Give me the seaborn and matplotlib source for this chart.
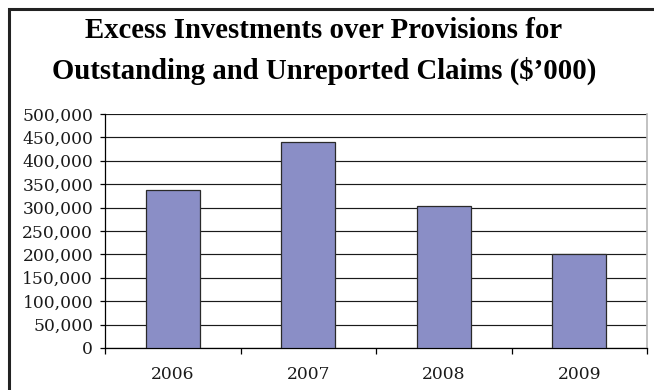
import matplotlib
matplotlib.use("Agg")
import matplotlib.pyplot as plt
from matplotlib.lines import Line2D
from matplotlib.ticker import FixedLocator
import seaborn as sns
import pandas as pd

# Data
years = ["2006", "2007", "2008", "2009"]
excess_investments = [338000, 440000, 304000, 200000]
y_ticks = [0, 50000, 100000, 150000, 200000, 250000, 300000, 350000, 400000, 450000, 500000]
y_tick_labels = ["0", "50,000", "100,000", "150,000", "200,000", "250,000",
                 "300,000", "350,000", "400,000", "450,000", "500,000"]
title_lines = ["Excess Investments over Provisions for",
               "Outstanding and Unreported Claims ($\u2019000)"]

sns.set_style("white")
plt.rcParams["font.family"] = ["Liberation Serif", "DejaVu Serif"]

W, H = 654, 390
fig = plt.figure(figsize=(W / 100, H / 100), dpi=100)
ax = fig.add_axes([105 / W, 1 - 348 / H, (647 - 105) / W, (348 - 114) / H])

df = pd.DataFrame({"year": years, "value": excess_investments})
sns.barplot(data=df, x="year", y="value", ax=ax, color="#8A8EC6",
            saturation=1, width=0.4, edgecolor="#2a2a2a", linewidth=0.9, zorder=3)

ax.set_xlim(-0.5, len(years) - 0.5)
ax.set_ylim(0, 500000)
ax.set_yticks(y_ticks)
ax.set_yticklabels(y_tick_labels)
ax.set_xlabel("")
ax.set_ylabel("")

# horizontal gridlines
ax.set_axisbelow(True)
ax.yaxis.grid(True, color="#1a1a1a", linewidth=0.85)
ax.xaxis.grid(False)

# spines
ax.spines["top"].set_visible(False)
ax.spines["left"].set_color("#000000")
ax.spines["bottom"].set_color("#000000")
ax.spines["left"].set_linewidth(0.9)
ax.spines["bottom"].set_linewidth(0.9)
ax.spines["right"].set_color("#b8b8b8")
ax.spines["right"].set_linewidth(1.2)

# ticks: outward y ticks, x ticks only at category boundaries
tick_font = dict(family=["DejaVu Serif"], size=12.3)
ax.tick_params(axis="y", direction="out", length=3.5, width=0.9, color="#000000",
               pad=5, left=True)
ax.tick_params(axis="x", which="major", length=0, pad=13)
ax.xaxis.set_minor_locator(FixedLocator([i - 0.5 for i in range(len(years) + 1)]))
ax.tick_params(axis="x", which="minor", direction="out", length=4, width=0.9,
               color="#000000", bottom=True)
for lab in ax.get_xticklabels() + ax.get_yticklabels():
    lab.set_color("#1a1a1a")
    lab.set_fontfamily(tick_font["family"])
    lab.set_fontsize(tick_font["size"])
    lab.set_fontweight("light")

# title, two centred lines
fig.text(324 / W, 1 - 31 / H, title_lines[0], ha="center", va="center",
         fontsize=20.7, fontweight="bold", color="#000000")
fig.text(324 / W, 1 - 71 / H, title_lines[1], ha="center", va="center",
         fontsize=20.7, fontweight="bold", color="#000000")

# frame along the left and top edges
fig.add_artist(Line2D([8.5 / W, 8.5 / W, 1.0], [0.0, 1 - 9 / H, 1 - 9 / H],
                      transform=fig.transFigure, color="#222222", linewidth=2.2,
                      solid_joinstyle="miter"))

fig.savefig("out.png", dpi=100)
